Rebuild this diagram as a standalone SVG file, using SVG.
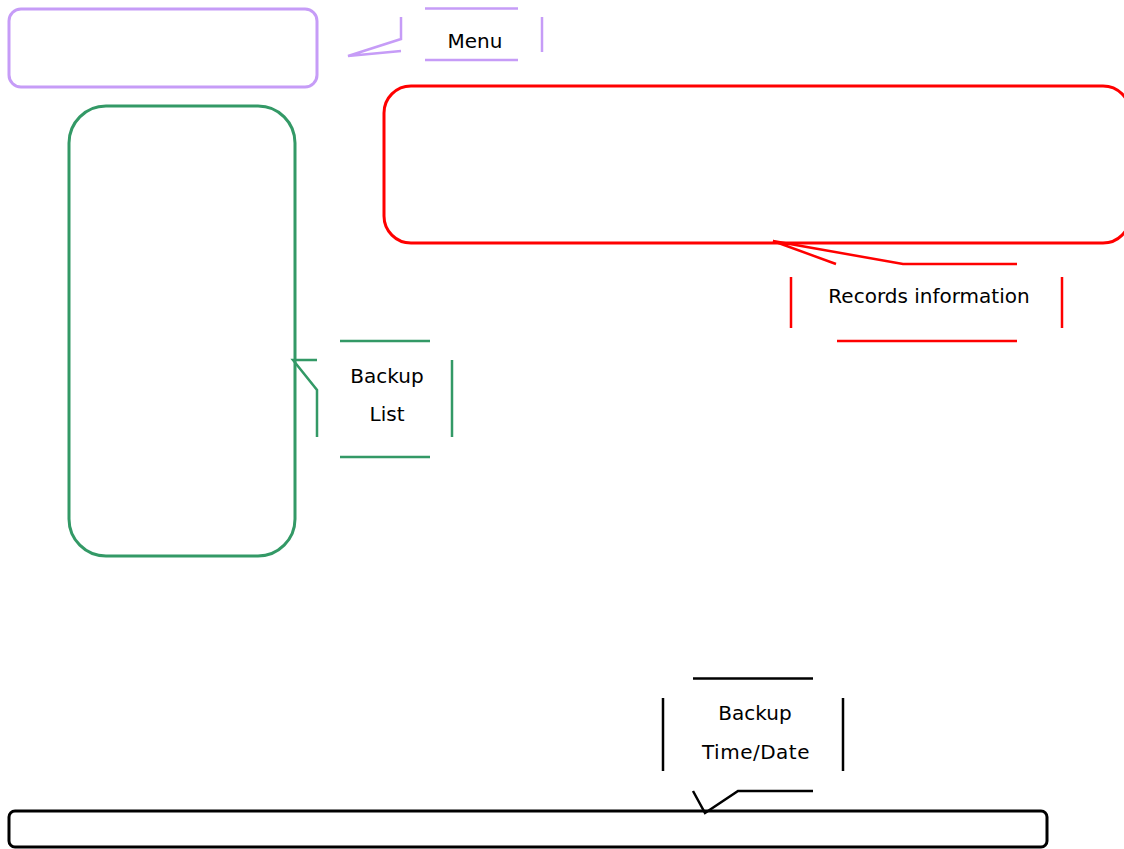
<svg xmlns="http://www.w3.org/2000/svg" width="1124" height="849" viewBox="0 0 1124 849">
<style>
.box{fill:none;stroke-width:3}
.ln{fill:none;stroke-width:2.5;stroke-linejoin:miter}
.t{font-family:"DejaVu Sans",sans-serif;font-size:20px;fill:#000;text-anchor:middle}
.p{stroke:#c69cf7}.g{stroke:#339966}.r{stroke:#ff0000}.k{stroke:#000}
</style>
<rect width="1124" height="849" fill="#fff"/>
<g id="menu-box"><rect class="box p" x="9" y="9" width="308" height="78" rx="12"/></g>
<g id="backup-list-box"><rect class="box g" x="69" y="106" width="226" height="450" rx="37"/></g>
<g id="records-box"><rect class="box r" x="384" y="86" width="746" height="157" rx="27"/></g>
<g id="timedate-box"><rect class="box k" x="9" y="811" width="1038" height="36" rx="6"/></g>
<g id="connectors">
<g id="menu-callout" class="ln p">
<line x1="425" y1="8.5" x2="518" y2="8.5"/>
<line x1="425" y1="60" x2="518" y2="60"/>
<line x1="542" y1="17" x2="542" y2="52"/>
<polyline points="401,17 401,39 348,56 401,51"/>
</g>
<g id="list-callout" class="ln g">
<line x1="340" y1="341" x2="430" y2="341"/>
<line x1="340" y1="457" x2="430" y2="457"/>
<line x1="452" y1="360" x2="452" y2="437"/>
<polyline points="317,360 293,360 317,390 317,437"/>
</g>
<g id="records-callout" class="ln r">
<polyline points="836,264 773,241 903,264 1017,264"/>
<line x1="791" y1="277" x2="791" y2="328"/>
<line x1="1062" y1="277" x2="1062" y2="328"/>
<line x1="837" y1="341" x2="1017" y2="341"/>
</g>
<g id="timedate-callout" class="ln k">
<line x1="693" y1="678.5" x2="813" y2="678.5"/>
<line x1="663" y1="698" x2="663" y2="771"/>
<line x1="843" y1="698" x2="843" y2="771"/>
<polyline points="693,791 705,813 738,791 813,791"/>
</g>
</g>
<g id="labels">
<text class="t" x="475" y="48">Menu</text>
<text class="t" x="929" y="303">Records information</text>
<text class="t" x="387" y="383">Backup</text>
<text class="t" x="387" y="421">List</text>
<text class="t" x="755" y="720">Backup</text>
<text class="t" x="756" y="759" letter-spacing="0.5">Time/Date</text>
</g>
</svg>
